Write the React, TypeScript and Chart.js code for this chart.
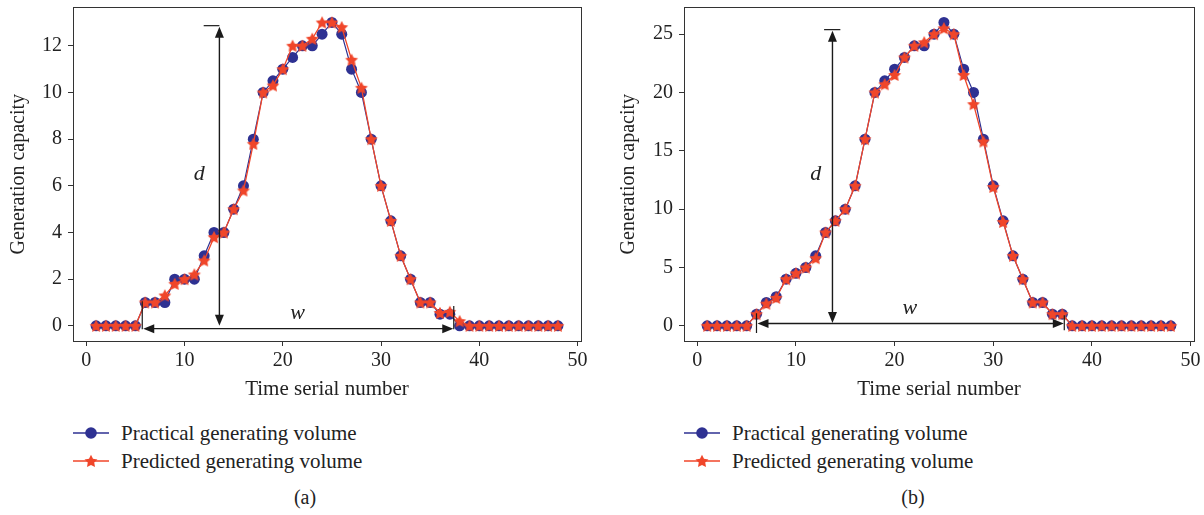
import React, { useEffect, useRef } from "react";
import { Chart, registerables } from "chart.js";

Chart.register(...registerables);

// ---------- data ----------
const serial = [1, 2, 3, 4, 5, 6, 7, 8, 9, 10, 11, 12, 13, 14, 15, 16, 17, 18, 19, 20, 21, 22, 23, 24, 25, 26, 27, 28, 29, 30, 31, 32, 33, 34, 35, 36, 37, 38, 39, 40, 41, 42, 43, 44, 45, 46, 47, 48];

const practicalA = [0, 0, 0, 0, 0, 1, 1, 1, 2, 2, 2, 3, 4, 4, 5, 6, 8, 10, 10.5, 11, 11.5, 12, 12, 12.5, 13, 12.5, 11, 10, 8, 6, 4.5, 3, 2, 1, 1, 0.5, 0.5, 0, 0, 0, 0, 0, 0, 0, 0, 0, 0, 0];
const predictedA = [0, 0, 0, 0, 0, 1, 1, 1.3, 1.8, 2, 2.2, 2.8, 3.8, 4, 5, 5.8, 7.8, 10, 10.3, 11, 12, 12, 12.3, 13, 13, 12.8, 11.4, 10.2, 8, 6, 4.5, 3, 2, 1, 1, 0.55, 0.6, 0.2, 0, 0, 0, 0, 0, 0, 0, 0, 0, 0];

const practicalB = [0, 0, 0, 0, 0, 1, 2, 2.5, 4, 4.5, 5, 6, 8, 9, 10, 12, 16, 20, 21, 22, 23, 24, 24, 25, 26, 25, 22, 20, 16, 12, 9, 6, 4, 2, 2, 1, 1, 0, 0, 0, 0, 0, 0, 0, 0, 0, 0, 0];
const predictedB = [0, 0, 0, 0, 0, 1, 1.9, 2.4, 4, 4.5, 5, 5.8, 8, 9, 10, 12, 16, 20, 20.7, 21.5, 23, 24, 24.3, 25, 25.5, 25, 21.5, 19, 15.8, 11.9, 8.9, 6, 4, 2, 2, 1, 1, 0, 0, 0, 0, 0, 0, 0, 0, 0, 0, 0];

const xTicks = [0, 10, 20, 30, 40, 50];
const yTicksA = [0, 2, 4, 6, 8, 10, 12];
const yTicksB = [0, 5, 10, 15, 20, 25];

const xRange = [-1.35, 50.35];
const yRangeA = [-0.65, 13.65];
const yRangeB = [-1.3, 27.3];

const seriesNames = ["Practical generating volume", "Predicted generating volume"];
const panelLabels = ["(a)", "(b)"];
const xTitle = "Time serial number";
const yTitle = "Generation capacity";

// annotation values (data coordinates): [x, yBottom, yTop, capX0, capX1]
const dArrowA = [13.55, 0, 12.82, 11.95, 13.55];
const dArrowB = [13.7, 0.25, 25.3, 12.85, 14.5];
// [y, xLeft, xRight, leftTickTop, leftTickBottom, rightTickTop, rightTickBottom]
const wArrowA = [-0.12, 5.8, 37.35, 1.05, -0.15, 0.85, -0.15];
const wArrowB = [0.2, 6.1, 37.15, 1.08, -0.62, 0.9, -0.37];
// label positions [x, y]
const dLabelA = [11.5, 6.5];
const dLabelB = [12.0, 13.0];
const wLabelA = [21.5, 0.53];
const wLabelB = [21.55, 1.5];

// ---------- styles ----------
const BLUE = "#2e3192";
const RED = "#f0462a";
const INK = "#222222";
const FRAME = "#333333";
const FONT = "'Liberation Serif', 'DejaVu Serif', serif";

function makeStar(r: number, color: string) {
  const s = Math.ceil(r * 2 + 2);
  const c = document.createElement("canvas");
  c.width = s;
  c.height = s;
  const g = c.getContext("2d")!;
  g.translate(s / 2, s / 2 + 0.5);
  g.beginPath();
  for (let i = 0; i < 10; i++) {
    const rad = i % 2 === 0 ? r : r * 0.5;
    const a = -Math.PI / 2 + (i * Math.PI) / 5;
    g.lineTo(rad * Math.cos(a), rad * Math.sin(a));
  }
  g.closePath();
  g.fillStyle = color;
  g.fill();
  return c;
}

const framePlugin = {
  id: "frame",
  afterDraw(chart: any) {
    const { ctx, chartArea: a } = chart;
    ctx.save();
    ctx.strokeStyle = FRAME;
    ctx.lineWidth = 1;
    ctx.strokeRect(Math.round(a.left) + 0.5, Math.round(a.top) + 0.5, Math.round(a.right - a.left), Math.round(a.bottom - a.top));
    ctx.restore();
  },
};

function arrowHead(ctx: CanvasRenderingContext2D, tx: number, ty: number, dx: number, dy: number) {
  const L = 11;
  const W = 4.5;
  const bx = tx - dx * L;
  const by = ty - dy * L;
  ctx.beginPath();
  ctx.moveTo(tx, ty);
  ctx.lineTo(bx - dy * W, by + dx * W);
  ctx.lineTo(bx + dy * W, by - dx * W);
  ctx.closePath();
  ctx.fill();
}

const annotPlugin = {
  id: "dw",
  afterDatasetsDraw(chart: any, _args: any, opts: any) {
    const { ctx, scales } = chart;
    const X = (v: number) => scales.x.getPixelForValue(v);
    const Y = (v: number) => scales.y.getPixelForValue(v);
    const d = opts.d, w = opts.w;
    ctx.save();
    ctx.strokeStyle = "#1a1a1a";
    ctx.fillStyle = "#1a1a1a";
    ctx.lineWidth = 1.4;
    // d arrow
    const dx = X(d[0]);
    const y0 = Y(d[1]);
    const y1 = Y(d[2]);
    ctx.beginPath();
    ctx.moveTo(dx, y0 - 8);
    ctx.lineTo(dx, y1 + 8);
    ctx.stroke();
    arrowHead(ctx, dx, y1, 0, -1);
    arrowHead(ctx, dx, y0, 0, 1);
    ctx.lineWidth = 1.2;
    ctx.beginPath();
    ctx.moveTo(X(d[3]), y1 - 1);
    ctx.lineTo(X(d[4]), y1 - 1);
    ctx.stroke();
    // w arrow
    const wy = Y(w[0]);
    const xl = X(w[1]);
    const xr = X(w[2]);
    ctx.lineWidth = 1.4;
    ctx.beginPath();
    ctx.moveTo(xl + 8, wy);
    ctx.lineTo(xr - 8, wy);
    ctx.stroke();
    arrowHead(ctx, xl, wy, -1, 0);
    arrowHead(ctx, xr, wy, 1, 0);
    ctx.lineWidth = 1.2;
    ctx.beginPath();
    ctx.moveTo(xl - 1, Y(w[3]));
    ctx.lineTo(xl - 1, Y(w[4]));
    ctx.moveTo(xr + 0.5, Y(w[5]));
    ctx.lineTo(xr + 0.5, Y(w[6]));
    ctx.stroke();
    // labels
    ctx.font = `italic 22px ${FONT}`;
    ctx.fillStyle = INK;
    ctx.textAlign = "center";
    ctx.textBaseline = "middle";
    ctx.fillText("d", X(opts.dl[0]), Y(opts.dl[1]));
    ctx.fillText("w", X(opts.wl[0]), Y(opts.wl[1]));
    ctx.restore();
  },
};

type PanelProps = {
  practical: number[];
  predicted: number[];
  yTicks: number[];
  yRange: number[];
  yAxisWidth: number;
  padRight: number;
  yTitlePad: number;
  d: number[];
  w: number[];
  dl: number[];
  wl: number[];
  width: number;
  height: number;
};

function Panel(p: PanelProps) {
  const ref = useRef<HTMLCanvasElement>(null);
  useEffect(() => {
    const star = makeStar(6.8, RED);
    const tickFont = { family: FONT, size: 20 };
    const chart = new Chart(ref.current!, {
      type: "line",
      data: {
        datasets: [
          {
            label: seriesNames[0],
            data: serial.map((x, i) => ({ x, y: p.practical[i] })),
            borderColor: BLUE,
            backgroundColor: BLUE,
            borderWidth: 1.2,
            pointStyle: "circle",
            pointRadius: 5.5,
            pointBorderWidth: 0,
            pointBackgroundColor: BLUE,
            tension: 0,
            order: 2,
          },
          {
            label: seriesNames[1],
            data: serial.map((x, i) => ({ x, y: p.predicted[i] })),
            borderColor: RED,
            backgroundColor: RED,
            borderWidth: 1.3,
            pointStyle: star as any,
            pointRadius: 6,
            tension: 0,
            order: 1,
          },
        ],
      },
      options: {
        responsive: false,
        animation: false,
        events: [],
        layout: { padding: { left: 0, top: 6, right: p.padRight, bottom: 0 } },
        plugins: {
          legend: { display: false },
          tooltip: { enabled: false },
          dw: { d: p.d, w: p.w, dl: p.dl, wl: p.wl },
        } as any,
        scales: {
          x: {
            type: "linear",
            min: xRange[0],
            max: xRange[1],
            afterBuildTicks: (s: any) => {
              s.ticks = xTicks.map((v) => ({ value: v }));
            },
            afterFit: (s: any) => {
              s.height = p.height - 341;
              s.paddingLeft = 0;
              s.paddingRight = 0;
            },
            grid: { drawOnChartArea: false, drawTicks: true, tickLength: 5, tickColor: FRAME, tickWidth: 1 },
            border: { display: true, color: FRAME, width: 1 },
            ticks: { font: tickFont, color: INK, padding: 3, maxRotation: 0, autoSkip: false },
            title: { display: true, text: xTitle, font: { family: FONT, size: 21 }, color: INK, padding: { top: 0, bottom: 8 } },
          },
          y: {
            type: "linear",
            min: p.yRange[0],
            max: p.yRange[1],
            afterBuildTicks: (s: any) => {
              s.ticks = p.yTicks.map((v) => ({ value: v }));
            },
            afterFit: (s: any) => {
              s.width = p.yAxisWidth;
              s.paddingTop = 0;
              s.paddingBottom = 0;
            },
            grid: { drawOnChartArea: false, drawTicks: true, tickLength: 5, tickColor: FRAME, tickWidth: 1 },
            border: { display: true, color: FRAME, width: 1 },
            ticks: { font: tickFont, color: INK, padding: 6 },
            title: { display: true, text: yTitle, font: { family: FONT, size: 20 }, color: INK, padding: { top: p.yTitlePad, bottom: 0 } },
          },
        },
      },
      plugins: [framePlugin, annotPlugin],
    });
    return () => chart.destroy();
  }, []);
  return <canvas ref={ref} width={p.width} height={p.height} style={{ display: "block", width: p.width, height: p.height }} />;
}

function LegendIcon({ kind }: { kind: "circle" | "star" }) {
  const color = kind === "circle" ? BLUE : RED;
  const pts: string[] = [];
  for (let i = 0; i < 10; i++) {
    const rad = i % 2 === 0 ? 6.8 : 3.4;
    const a = -Math.PI / 2 + (i * Math.PI) / 5;
    pts.push(`${18 + rad * Math.cos(a)},${10.5 + rad * Math.sin(a)}`);
  }
  return (
    <svg width={36} height={20} style={{ position: "absolute", left: 0, top: 4 }}>
      <line x1={0} y1={10} x2={36} y2={10} stroke={color} strokeWidth={1.3} />
      {kind === "circle" ? <circle cx={18} cy={10} r={5.8} fill={color} /> : <polygon points={pts.join(" ")} fill={color} />}
    </svg>
  );
}

function Legend({ left, top }: { left: number; top: number }) {
  const row = (kind: "circle" | "star", text: string, t: number) => (
    <div style={{ position: "absolute", left, top: t, height: 28, width: 320 }}>
      <LegendIcon kind={kind} />
      <span
        style={{
          position: "absolute",
          left: 48,
          top: 0,
          lineHeight: "28px",
          fontFamily: FONT,
          fontSize: 21,
          color: INK,
          whiteSpace: "nowrap",
        }}
      >
        {text}
      </span>
    </div>
  );
  return (
    <>
      {row("circle", seriesNames[0], top)}
      {row("star", seriesNames[1], top + 28)}
    </>
  );
}

function Caption({ x, text }: { x: number; text: string }) {
  return (
    <div
      style={{
        position: "absolute",
        left: x - 40,
        width: 80,
        top: 484,
        textAlign: "center",
        fontFamily: FONT,
        fontSize: 20,
        lineHeight: "26px",
        color: INK,
      }}
    >
      {text}
    </div>
  );
}

export default function App() {
  return (
    <div style={{ position: "absolute", left: 0, top: 0, width: 1204, height: 515, background: "#fff", overflow: "hidden" }}>
      <div style={{ position: "absolute", left: 0, top: 0 }}>
        <Panel
          practical={practicalA}
          predicted={predictedA}
          yTicks={yTicksA}
          yRange={yRangeA}
          yAxisWidth={73}
          padRight={19}
          yTitlePad={7}
          d={dArrowA}
          w={wArrowA}
          dl={dLabelA}
          wl={wLabelA}
          width={600}
          height={410}
        />
      </div>
      <div style={{ position: "absolute", left: 604, top: 0 }}>
        <Panel
          practical={practicalB}
          predicted={predictedB}
          yTicks={yTicksB}
          yRange={yRangeB}
          yAxisWidth={80}
          padRight={10}
          yTitlePad={13}
          d={dArrowB}
          w={wArrowB}
          dl={dLabelB}
          wl={wLabelB}
          width={600}
          height={410}
        />
      </div>
      <Legend left={73} top={419} />
      <Legend left={684} top={419} />
      <Caption x={305} text={panelLabels[0]} />
      <Caption x={913} text={panelLabels[1]} />
    </div>
  );
}
